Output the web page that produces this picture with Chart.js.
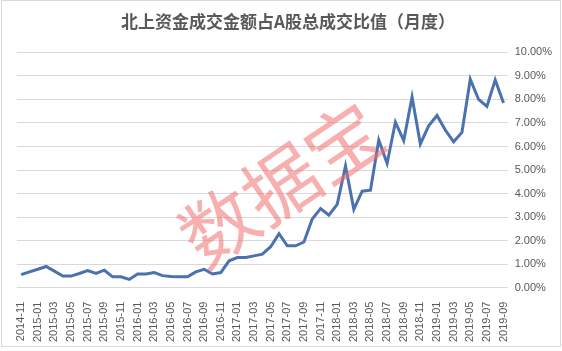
<!DOCTYPE html>
<html>
<head>
<meta charset="utf-8">
<script src="https://cdn.jsdelivr.net/npm/chart.js@4/dist/chart.umd.min.js"></script>
<style>
  html, body { margin: 0; padding: 0; background: #fff; }
  #wrap { width: 562px; height: 351px; position: relative; }
</style>
</head>
<body>
<div id="wrap"><canvas id="c" width="562" height="351"></canvas></div>
<script>
// ========= dados =========
const months = [
  '2014-11','2014-12',
  '2015-01','2015-02','2015-03','2015-04','2015-05','2015-06','2015-07','2015-08','2015-09','2015-10','2015-11','2015-12',
  '2016-01','2016-02','2016-03','2016-04','2016-05','2016-06','2016-07','2016-08','2016-09','2016-10','2016-11','2016-12',
  '2017-01','2017-02','2017-03','2017-04','2017-05','2017-06','2017-07','2017-08','2017-09','2017-10','2017-11','2017-12',
  '2018-01','2018-02','2018-03','2018-04','2018-05','2018-06','2018-07','2018-08','2018-09','2018-10','2018-11','2018-12',
  '2019-01','2019-02','2019-03','2019-04','2019-05','2019-06','2019-07','2019-08','2019-09'
];
// 北上资金成交占比 (%)
const ratio = [
  0.55, 0.67,
  0.78, 0.90, 0.70, 0.49, 0.49, 0.60, 0.72, 0.60, 0.74, 0.46, 0.46, 0.35,
  0.58, 0.58, 0.64, 0.51, 0.47, 0.46, 0.46, 0.67, 0.78, 0.58, 0.64, 1.14,
  1.28, 1.28, 1.35, 1.42, 1.74, 2.29, 1.78, 1.78, 1.94, 2.92, 3.36, 3.08,
  3.54, 5.17, 3.33, 4.10, 4.14, 6.28, 5.28, 7.04, 6.25, 8.10, 6.11, 6.88,
  7.32, 6.70, 6.20, 6.60, 8.86, 8.00, 7.70, 8.83, 7.85
];
const title = '北上资金成交金额占A股总成交比值（月度）';
const watermark = '数据宝';

// ========= plugins =========
const frame = {
  id: 'frame',
  beforeDraw(chart) {
    const ctx = chart.ctx;
    ctx.save();
    ctx.fillStyle = '#fff';
    ctx.fillRect(0, 0, chart.width, chart.height);
    ctx.strokeStyle = '#d9d9d9';
    ctx.lineWidth = 1;
    ctx.strokeRect(1.5, 0.5, 559, 346);
    ctx.restore();
  }
};
const mark = {
  id: 'mark',
  afterDatasetsDraw(chart) {
    const ctx = chart.ctx;
    ctx.save();
    ctx.translate(281, 184);
    ctx.rotate(-34 * Math.PI / 180);
    ctx.font = '75px "Noto Sans CJK SC"';
    ctx.fillStyle = 'rgba(240, 110, 110, 0.55)';
    ctx.textAlign = 'center';
    ctx.textBaseline = 'middle';
    ctx.fillText(watermark, 0, 0);
    ctx.restore();
  }
};

// ========= chart =========
Chart.defaults.font.family = '"Liberation Sans", Arial, sans-serif';
Chart.defaults.color = '#595959';

new Chart(document.getElementById('c'), {
  type: 'line',
  data: {
    labels: months,
    datasets: [{
      data: ratio,
      borderColor: '#4a72b0',
      borderWidth: 3,
      pointRadius: 0,
      tension: 0,
      fill: false
    }]
  },
  options: {
    responsive: false,
    animation: false,
    layout: { padding: { left: 17, right: 3, top: 0, bottom: 3 } },
    plugins: {
      legend: { display: false },
      tooltip: { enabled: false },
      title: {
        display: true,
        text: title,
        color: '#595959',
        font: { family: '"Noto Sans CJK SC"', size: 17, weight: 'bold' },
        padding: { top: 11, bottom: 21 }
      }
    },
    scales: {
      x: {
        offset: true,
        grid: { display: false },
        border: { display: false },
        ticks: {
          autoSkip: false,
          minRotation: 90,
          maxRotation: 90,
          font: { size: 11 },
          padding: 6,
          callback: (v, i) => (i % 2 === 0 ? months[i] : '')
        }
      },
      y: {
        position: 'right',
        min: 0,
        max: 10,
        grid: { color: '#d9d9d9', drawTicks: false },
        border: { display: false },
        ticks: {
          stepSize: 1,
          padding: 7,
          font: { size: 11 },
          callback: v => v.toFixed(2) + '%'
        }
      }
    }
  },
  plugins: [frame, mark]
});
</script>
</body>
</html>
